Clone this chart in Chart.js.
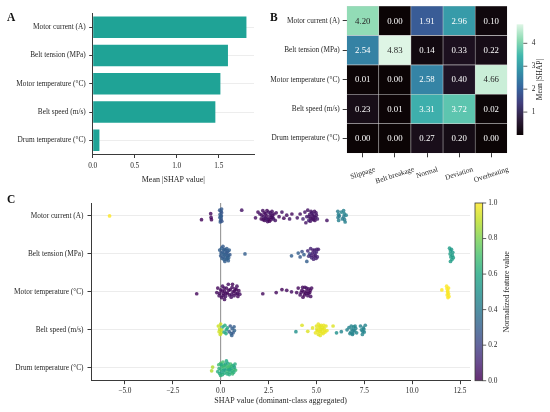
<!DOCTYPE html>
<html><head><meta charset="utf-8">
<script src="https://cdn.jsdelivr.net/npm/chart.js@4.4.0/dist/chart.umd.min.js"></script>
<style>
html,body{margin:0;padding:0;background:#fff;}
#wrap{position:relative;width:550px;height:412px;overflow:hidden;background:#fff;}
canvas{position:absolute;left:0;top:0;}
</style></head><body>
<div id="wrap">
<canvas id="cA" width="550" height="412"></canvas>
<canvas id="cB" width="550" height="412"></canvas>
<canvas id="cC" width="550" height="412"></canvas>
</div>
<script>
// ---------- data ----------
const features = ['Motor current (A)','Belt tension (MPa)','Motor temperature (°C)','Belt speed (m/s)','Drum temperature (°C)'];
const classes = ['Slippage','Belt breakage','Normal','Deviation','Overheating'];
const meanAbsShap = [1.83, 1.61, 1.52, 1.46, 0.08];
const barTicks = [0, 0.5, 1.0, 1.5];

const heatMotorCurrent = [4.20, 0.00, 1.91, 2.96, 0.10];
const heatBeltTension  = [2.54, 4.83, 0.14, 0.33, 0.22];
const heatMotorTemp    = [0.01, 0.00, 2.58, 0.40, 4.66];
const heatBeltSpeed    = [0.23, 0.01, 3.31, 3.72, 0.02];
const heatDrumTemp     = [0.00, 0.00, 0.27, 0.20, 0.00];
const heatCbarTicks = [1, 2, 3, 4];

const shapTicks = [-5, -2.5, 0, 2.5, 5, 7.5, 10, 12.5];
const cbarTicks = [0, 0.2, 0.4, 0.6, 0.8, 1.0];

// points: [SHAP value, vertical jitter, normalized feature value]
const ptsMotorCurrent = [
 [-5.80,0.00,1.00],[-1.00,0.10,0.02],[-0.52,-0.06,0.03],[-0.50,0.04,0.03],[-0.48,0.10,0.02],
 [-0.05,-0.15,0.28],[0.02,-0.12,0.30],[0.05,-0.08,0.27],[-0.03,-0.04,0.29],[0.04,0.00,0.28],[-0.04,0.04,0.30],
 [0.03,0.08,0.27],[0.00,0.12,0.28],[-0.02,0.16,0.29],[0.05,-0.18,0.28],[0.01,0.02,0.30],[0.06,0.14,0.27],
 [1.10,-0.15,0.05],
 [1.82,0.05,0.04],[1.95,-0.10,0.03],[2.05,-0.05,0.05],[2.12,0.08,0.02],[2.20,-0.14,0.04],[2.25,0.02,0.06],
 [2.30,0.12,0.03],[2.35,-0.06,0.05],[2.40,0.00,0.02],[2.45,0.15,0.04],[2.50,-0.10,0.06],[2.52,0.06,0.03],
 [2.58,-0.02,0.05],[2.62,0.10,0.02],[2.68,-0.12,0.04],[2.72,0.04,0.06],[2.78,-0.05,0.03],[2.85,0.12,0.05],
 [2.90,-0.08,0.04],[3.05,0.02,0.03],[3.20,-0.10,0.05],[3.30,0.06,0.02],[3.45,-0.02,0.04],[3.60,0.08,0.06],[3.72,-0.05,0.03],
 [2.15,-0.02,0.04],[2.28,-0.08,0.03],[2.33,0.06,0.05],[2.42,-0.14,0.03],[2.48,0.10,0.04],[2.55,0.14,0.02],
 [2.60,-0.08,0.05],[2.65,0.04,0.03],[2.70,-0.02,0.04],[2.38,0.08,0.06],[2.22,0.10,0.03],[2.75,0.08,0.05],
 [4.00,0.05,0.05],[4.15,-0.05,0.04],[4.30,0.08,0.10],[4.40,-0.10,0.06],[4.50,0.02,0.08],[4.55,-0.15,0.05],
 [4.60,0.12,0.12],[4.65,-0.04,0.06],[4.70,0.06,0.04],[4.75,-0.08,0.09],[4.80,0.00,0.05],[4.85,0.10,0.07],
 [4.90,-0.12,0.04],[4.95,0.04,0.06],[5.00,-0.02,0.05],[5.05,0.08,0.08],[4.45,0.18,0.05],[5.55,0.12,0.05],
 [4.62,0.02,0.06],[4.72,-0.12,0.05],[4.78,0.08,0.04],[4.82,-0.05,0.06],[4.88,0.02,0.05],[4.92,0.12,0.04],
 [4.68,0.14,0.05],[4.98,-0.08,0.06],
 [6.12,-0.12,0.42],[6.15,-0.04,0.44],[6.13,0.04,0.41],[6.16,0.12,0.43],[6.20,0.00,0.42],[6.30,-0.10,0.45],
 [6.35,0.08,0.42],[6.42,-0.14,0.43],[6.45,-0.06,0.44],[6.43,0.02,0.41],[6.47,0.10,0.42],[6.50,0.16,0.43],[6.55,-0.02,0.44]
];
const ptsBeltTension = [
 [-0.05,-0.10,0.30],[0.00,0.05,0.29],[0.05,-0.15,0.31],[0.08,0.12,0.30],[0.10,-0.05,0.28],[0.15,0.00,0.30],
 [0.18,0.15,0.31],[0.20,-0.12,0.29],[0.25,0.08,0.30],[0.28,-0.02,0.28],[0.30,0.14,0.31],[0.32,-0.14,0.30],
 [0.35,0.04,0.29],[0.38,-0.07,0.30],[0.42,0.10,0.31],[0.45,-0.10,0.30],[0.48,0.02,0.28],[0.22,0.20,0.30],
 [0.12,-0.20,0.29],[0.40,0.18,0.30],
 [0.02,-0.02,0.30],[0.12,0.08,0.29],[0.20,0.02,0.31],[0.26,-0.10,0.30],[0.33,-0.04,0.28],[0.40,0.04,0.30],
 [0.36,0.12,0.31],[0.16,-0.10,0.30],
 [1.27,0.00,0.30],
 [3.70,0.05,0.30],[4.05,-0.02,0.30],[4.15,0.08,0.28],[4.25,-0.06,0.25],[4.35,0.02,0.30],[4.50,0.20,0.30],
 [4.55,-0.08,0.12],[4.60,0.06,0.15],[4.70,-0.14,0.10],[4.75,0.10,0.12],[4.80,-0.02,0.08],[4.85,0.14,0.10],
 [4.90,-0.10,0.10],[4.95,0.04,0.08],[5.00,-0.05,0.12],[5.05,0.08,0.10],[5.10,-0.12,0.08],[4.65,0.00,0.20],
 [4.72,0.04,0.10],[4.82,-0.10,0.09],[4.88,0.06,0.08],[4.98,0.12,0.10],[5.02,-0.12,0.09],[4.92,-0.02,0.11],
 [11.95,-0.15,0.55],[12.00,-0.08,0.54],[11.98,0.00,0.56],[12.02,0.08,0.55],[12.05,-0.12,0.54],[12.08,0.15,0.56],
 [12.10,0.04,0.55],[12.12,-0.04,0.54],[12.00,0.20,0.55],[12.15,0.10,0.56]
];
const ptsMotorTemp = [
 [-1.25,0.05,0.02],
 [-0.20,0.02,0.03],[-0.15,-0.10,0.02],[-0.08,0.10,0.04],[0.00,-0.05,0.03],[0.05,0.15,0.02],[0.10,-0.15,0.04],
 [0.15,0.05,0.03],[0.20,-0.02,0.02],[0.25,0.12,0.04],[0.30,-0.10,0.03],[0.35,0.03,0.02],[0.40,-0.20,0.04],
 [0.45,0.08,0.03],[0.50,-0.06,0.02],[0.55,0.14,0.04],[0.60,-0.12,0.03],[0.65,0.00,0.02],[0.70,0.10,0.04],
 [0.75,-0.08,0.03],[0.80,0.05,0.02],[0.85,-0.15,0.04],[0.90,0.12,0.03],[0.95,-0.03,0.02],[1.00,0.06,0.04],
 [0.20,0.20,0.03],[0.62,-0.20,0.02],
 [-0.05,0.04,0.03],[0.08,-0.02,0.02],[0.18,-0.10,0.04],[0.28,0.04,0.03],[0.42,-0.04,0.02],[0.58,0.06,0.04],
 [0.72,-0.02,0.03],[0.82,-0.06,0.02],[0.88,0.04,0.04],[0.12,0.10,0.03],
 [2.20,0.05,0.03],[2.90,0.02,0.03],[3.20,-0.06,0.02],[3.45,-0.04,0.03],[3.70,0.00,0.04],[3.97,0.02,0.03],
 [4.05,-0.10,0.02],[4.15,0.08,0.04],[4.25,-0.04,0.03],[4.30,0.14,0.02],[4.40,-0.12,0.04],[4.45,0.04,0.03],
 [4.50,-0.02,0.02],[4.55,0.10,0.04],[4.60,-0.08,0.03],[4.65,0.02,0.02],[4.70,0.12,0.04],[4.75,-0.10,0.03],[4.35,0.00,0.02],
 [4.20,0.02,0.03],[4.38,0.08,0.02],[4.48,-0.10,0.04],[4.58,0.04,0.03],[4.68,-0.04,0.02],[4.28,-0.12,0.03],
 [11.55,-0.05,1.00],[11.80,-0.15,1.00],[11.82,-0.08,0.99],[11.85,0.00,1.00],[11.83,0.08,0.99],[11.87,0.15,1.00],
 [11.90,-0.10,1.00],[11.90,0.05,0.99],[11.92,0.12,1.00],[11.86,-0.02,1.00]
];
const ptsBeltSpeed = [
 [-0.12,-0.10,0.92],[-0.08,0.05,0.93],[-0.05,-0.02,0.91],[-0.02,0.12,0.92],[0.00,-0.15,0.93],[0.03,0.08,0.92],[0.05,0.00,0.91],
 [0.12,-0.08,0.60],[0.18,0.06,0.58],[0.22,-0.12,0.62],[0.28,0.10,0.60],[0.30,0.00,0.55],[0.35,-0.05,0.60],
 [0.45,0.05,0.30],[0.50,-0.10,0.28],[0.55,0.10,0.32],[0.60,-0.03,0.30],[0.65,0.08,0.28],[0.70,-0.08,0.30],[0.72,0.02,0.32],[0.58,0.15,0.30],
 [3.93,0.05,0.50],
 [4.25,-0.12,0.95],[4.55,0.04,0.95],[4.80,-0.05,0.96],[4.95,0.08,0.97],[5.00,-0.10,0.96],[5.05,0.02,0.97],
 [5.10,0.12,0.96],[5.15,-0.06,0.97],[5.20,0.05,0.96],[5.25,-0.12,0.97],[5.30,0.00,0.96],[5.35,0.10,0.97],
 [5.40,-0.04,0.96],[5.45,0.06,0.97],[5.50,-0.10,0.96],[5.55,0.02,0.97],[5.20,0.15,0.96],[5.10,-0.15,0.97],
 [5.02,-0.02,0.96],[5.12,0.04,0.97],[5.18,-0.10,0.96],[5.28,0.08,0.97],[5.32,-0.06,0.96],[5.42,0.02,0.97],
 [5.22,-0.02,0.96],[5.38,-0.12,0.97],
 [5.87,-0.10,0.95],[6.05,0.08,0.50],[6.30,0.05,0.45],
 [6.60,0.00,0.45],[6.70,-0.06,0.44],[6.80,0.06,0.46],[6.85,-0.02,0.45],[6.90,0.10,0.44],[6.95,-0.08,0.46],
 [7.00,0.03,0.45],[7.05,-0.04,0.44],[7.10,0.08,0.46],[6.75,0.10,0.45],[7.30,-0.10,0.44],[7.35,0.00,0.46],
 [7.40,0.12,0.45],[7.45,-0.05,0.44],[7.50,0.06,0.46],[7.55,-0.12,0.45],
 [6.82,-0.10,0.45],[6.92,0.02,0.44],[7.02,-0.10,0.46],[6.88,0.12,0.45],[7.42,0.04,0.44],[7.48,-0.02,0.45]
];
const ptsDrumTemp = [
 [-0.47,0.08,0.88],[-0.42,-0.02,0.88],
 [-0.15,0.10,0.62],[-0.10,-0.08,0.68],[-0.05,0.15,0.60],[0.00,-0.12,0.70],[0.02,0.04,0.64],[0.05,0.12,0.58],
 [0.08,-0.04,0.66],[0.10,0.18,0.62],[0.12,-0.15,0.70],[0.15,0.06,0.60],[0.18,-0.06,0.66],[0.20,0.14,0.62],
 [0.25,-0.10,0.56],[0.30,0.02,0.64],[0.35,0.10,0.68],[0.38,-0.12,0.60],[0.42,0.05,0.58],[0.45,-0.04,0.66],
 [0.50,0.12,0.62],[0.52,-0.10,0.70],[0.55,0.02,0.60],[0.60,0.08,0.64],[0.65,-0.06,0.58],[0.70,0.04,0.66],
 [0.75,-0.10,0.62],[0.78,0.06,0.68],[0.30,-0.18,0.60],[0.00,0.20,0.64],[0.45,0.18,0.62],
 [-0.08,0.02,0.64],[0.04,-0.08,0.60],[0.14,-0.02,0.68],[0.22,0.06,0.58],[0.28,-0.06,0.66],[0.34,0.16,0.62],
 [0.40,-0.02,0.70],[0.48,0.04,0.60],[0.58,-0.04,0.66],[0.68,0.12,0.62],[0.72,-0.02,0.58],[0.62,0.16,0.66]
];

// ---------- helpers ----------
const makoStops = ['#0b0405','#2e1e3b','#413d7b','#37659e','#348fa7','#40b7ad','#8bdab2','#def5e5'];
const viridisStops = ['#440154','#482475','#414487','#355f8d','#2a788e','#21918c','#22a884','#44bf70','#7ad151','#bddf26','#fde725'];
function hexRgb(h){return [parseInt(h.slice(1,3),16),parseInt(h.slice(3,5),16),parseInt(h.slice(5,7),16)];}
function cmap(stops,t,a){
  t=Math.max(0,Math.min(1,t)); const n=stops.length-1;
  const i=Math.min(Math.floor(t*n),n-1); const f=t*n-i;
  const c0=hexRgb(stops[i]), c1=hexRgb(stops[i+1]);
  const c=c0.map((v,k)=>Math.round(v+(c1[k]-v)*f));
  return 'rgba('+c[0]+','+c[1]+','+c[2]+','+a+')';
}
const FONT='"Liberation Serif","Times New Roman",serif';
Chart.defaults.font.family=FONT;
Chart.defaults.color='#262626';
const FS=7.3, spine='#3a3a3a';
function panelLabel(text,x,y){
  return {id:'panel'+text, afterDraw(chart){const c=chart.ctx;c.save();c.font='bold 11.5px '+FONT;c.fillStyle='#111';c.textAlign='left';c.textBaseline='alphabetic';c.fillText(text,x,y);c.restore();}};
}
const common={responsive:false,animation:false,events:[],plugins:{legend:{display:false},tooltip:{enabled:false}}};

// ---------- Panel A ----------
new Chart(document.getElementById('cA'),{
  type:'bar',
  data:{labels:features,datasets:[{data:meanAbsShap,backgroundColor:'#1fa396',barPercentage:0.76,categoryPercentage:1}]},
  options:Object.assign({},common,{
    indexAxis:'y',
    layout:{padding:{left:0,top:13,right:296,bottom:412-154.5-30}},
    scales:{
      x:{type:'linear',min:0,max:1.92,
         afterBuildTicks:s=>{s.ticks=barTicks.map(v=>({value:v}));},
         ticks:{callback:v=>Number(v).toFixed(1),font:{size:FS},padding:3.5,color:'#262626'},
         grid:{display:true,drawOnChartArea:false,tickLength:3.5,tickColor:spine},
         border:{display:true,color:spine,width:1},
         title:{display:true,text:'Mean |SHAP value|',font:{size:8},padding:0,color:'#262626'},
         afterFit:s=>{s.height=30;s.paddingLeft=0;s.paddingRight=0;}},
      y:{ticks:{font:{size:FS},padding:3.5,color:'#262626'},
         grid:{color:'#ededed',offset:false,tickColor:spine,tickLength:3.5},
         border:{display:true,color:spine,width:1},
         afterFit:s=>{s.width=92.7;s.paddingTop=0;s.paddingBottom=0;}}
    }
  }),
  plugins:[panelLabel('A',7,21)]
});

// ---------- Panel B ----------
const heatRows=[heatMotorCurrent,heatBeltTension,heatMotorTemp,heatBeltSpeed,heatDrumTemp];
const heatMax=Math.max(...heatRows.flat());
const heatDatasets=heatRows.map((row,r)=>({
  label:features[r], heatValues:row, data:row.map(()=>1),
  backgroundColor:row.map(v=>cmap(makoStops,v/heatMax,1)),
  borderColor:'#d2d2d2',borderWidth:0.55,borderSkipped:false,
  barPercentage:1,categoryPercentage:1
})).reverse();
const heatAnnot={id:'heatAnnot',afterDatasetsDraw(chart){
  const c=chart.ctx;c.save();c.font='8.8px '+FONT;c.textAlign='center';c.textBaseline='middle';
  chart.data.datasets.forEach((ds,di)=>{
    chart.getDatasetMeta(di).data.forEach((el,j)=>{
      const v=ds.heatValues[j];
      c.fillStyle=(v/heatMax>0.8)?'#262626':'#ffffff';
      c.fillText(v.toFixed(2),el.x,(el.y+el.base)/2+0.5);
    });
  });
  c.restore();
}};
const heatColLabels={id:'heatColLabels',afterDraw(chart){
  const c=chart.ctx, xs=chart.scales.x, a=chart.chartArea, th=18*Math.PI/180;
  c.save();c.font=FS+'px '+FONT;c.fillStyle='#262626';c.textAlign='center';c.textBaseline='middle';
  classes.forEach((lab,i)=>{
    const x=xs.getPixelForTick(i); const L=c.measureText(lab).width; const H=L*Math.sin(th)+5.5*Math.cos(th);
    c.save();c.translate(x,a.bottom+13.3+H/2);c.rotate(-th);c.fillText(lab,0,0);c.restore();
  });
  c.restore();
}};
const heatCbar={id:'heatCbar',afterDraw(chart){
  const a=chart.chartArea,c=chart.ctx;
  const x0=a.right+9.4,w=6.6,top=a.top+18.3,bot=a.bottom-18.3;
  c.save();
  const g=c.createLinearGradient(0,bot,0,top);
  makoStops.forEach((s,i)=>g.addColorStop(i/(makoStops.length-1),s));
  c.fillStyle=g;c.fillRect(x0,top,w,bot-top);
  c.strokeStyle=spine;c.lineWidth=0.8;c.fillStyle='#262626';c.font=FS+'px '+FONT;c.textAlign='left';c.textBaseline='middle';
  heatCbarTicks.forEach(v=>{const y=bot-v/heatMax*(bot-top);c.beginPath();c.moveTo(x0+w,y);c.lineTo(x0+w+4,y);c.stroke();c.fillText(String(v),x0+w+8.5,y);});
  c.translate(a.right+32.7,(top+bot)/2);c.rotate(-Math.PI/2);c.textAlign='center';c.font='7.5px '+FONT;c.fillText('Mean |SHAP|',0,0);
  c.restore();
}};
new Chart(document.getElementById('cB'),{
  type:'bar',
  data:{labels:classes,datasets:heatDatasets},
  options:Object.assign({},common,{
    layout:{padding:{left:0,top:6,right:550-507.3,bottom:412-153.3-40}},
    scales:{
      x:{type:'category',stacked:true,offset:true,
         ticks:{display:false},
         grid:{display:true,drawOnChartArea:false,offset:false,tickLength:4,tickColor:spine},
         border:{display:false},
         afterFit:s=>{s.height=40;s.paddingLeft=0;s.paddingRight=0;}},
      y:{type:'linear',stacked:true,min:0,max:5,
         afterBuildTicks:s=>{s.ticks=features.map((f,i)=>({value:features.length-0.5-i}));},
         ticks:{callback:v=>features[Math.round(features.length-0.5-v)],font:{size:FS},padding:3,color:'#262626'},
         grid:{display:true,drawOnChartArea:false,tickLength:4,tickColor:spine},
         border:{display:false},
         afterFit:s=>{s.width=346.7;s.paddingTop=0;s.paddingBottom=0;}}
    }
  }),
  plugins:[heatAnnot,heatColLabels,heatCbar,panelLabel('B',270,21)]
});

// ---------- Panel C ----------
const swarmRows=[ptsMotorCurrent,ptsBeltTension,ptsMotorTemp,ptsBeltSpeed,ptsDrumTemp];
const swarmDatasets=swarmRows.map((pts,r)=>({
  label:features[r],
  data:pts.map(p=>({x:p[0],y:r+p[1]})),
  pointBackgroundColor:pts.map(p=>cmap(viridisStops,p[2],0.82)),
  pointBorderWidth:0,pointRadius:1.85
}));
const zeroLine={id:'zeroLine',beforeDatasetsDraw(chart){
  const a=chart.chartArea,c=chart.ctx,x=chart.scales.x.getPixelForValue(0);
  c.save();c.strokeStyle='rgba(120,120,120,0.85)';c.lineWidth=1;c.beginPath();c.moveTo(x,a.top);c.lineTo(x,a.bottom);c.stroke();c.restore();
}};
const swarmCbar={id:'swarmCbar',afterDraw(chart){
  const a=chart.chartArea,c=chart.ctx;
  const x0=a.right+5,w=7.7,top=a.top,bot=a.bottom;
  c.save();
  const g=c.createLinearGradient(0,bot,0,top);
  viridisStops.forEach((s,i)=>g.addColorStop(i/(viridisStops.length-1),cmap(viridisStops,i/(viridisStops.length-1),0.82)));
  c.fillStyle=g;c.fillRect(x0,top,w,bot-top);
  c.strokeStyle=spine;c.lineWidth=0.8;c.strokeRect(x0,top,w,bot-top);
  c.fillStyle='#262626';c.font=FS+'px '+FONT;c.textAlign='left';c.textBaseline='middle';
  cbarTicks.forEach(v=>{const y=bot-v*(bot-top);c.beginPath();c.moveTo(x0+w,y);c.lineTo(x0+w+3.5,y);c.stroke();c.fillText(v.toFixed(1),x0+w+5.5,y);});
  c.translate(a.right+37,(top+bot)/2);c.rotate(-Math.PI/2);c.textAlign='center';c.font='8px '+FONT;c.fillText('Normalized feature value',0,0);
  c.restore();
}};
new Chart(document.getElementById('cC'),{
  type:'scatter',
  data:{datasets:swarmDatasets},
  options:Object.assign({},common,{
    layout:{padding:{left:0,top:203,right:550-470,bottom:6}},
    scales:{
      x:{type:'linear',min:-6.77,max:13.02,
         afterBuildTicks:s=>{s.ticks=shapTicks.map(v=>({value:v}));},
         ticks:{callback:v=>Number(v).toFixed(1).replace('-','\u2212'),font:{size:FS},padding:2.5,color:'#262626'},
         grid:{display:true,drawOnChartArea:false,tickLength:3.5,tickColor:spine},
         border:{display:true,color:spine,width:1},
         title:{display:true,text:'SHAP value (dominant-class aggregated)',font:{size:8},padding:0,color:'#262626'},
         afterFit:s=>{s.height=412-6-380.7;s.paddingLeft=0;s.paddingRight=0;}},
      y:{type:'linear',reverse:true,min:-0.34,max:4.34,
         afterBuildTicks:s=>{s.ticks=features.map((f,i)=>({value:i}));},
         ticks:{callback:v=>features[Math.round(v)],font:{size:FS},padding:4,color:'#262626'},
         grid:{color:'#ececec',tickColor:spine,tickLength:3.5},
         border:{display:true,color:spine,width:1},
         afterFit:s=>{s.width=91;s.paddingTop=0;s.paddingBottom=0;}}
    }
  }),
  plugins:[zeroLine,swarmCbar,panelLabel('C',7,203)]
});
</script>
</body></html>
